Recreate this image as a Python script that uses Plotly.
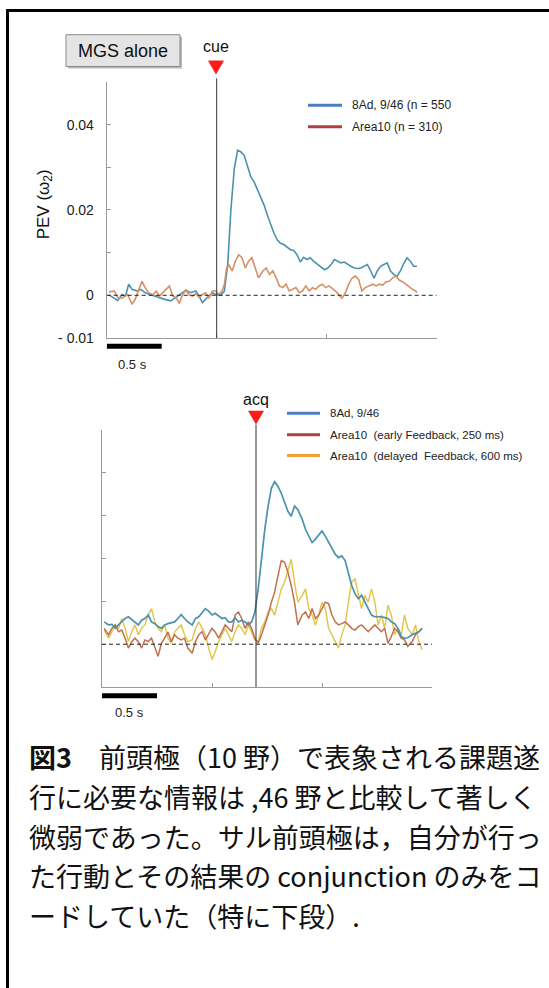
import plotly.graph_objects as go

W, H = 549, 988

# ---------------- data ----------------
# Top panel: MGS alone, aligned to cue (s)
top_t_8ad = [-0.98, -0.90, -0.86, -0.83, -0.80, -0.77, -0.72, -0.69, -0.65, -0.60, -0.54, -0.48, -0.42, -0.37,
             -0.33, -0.28, -0.24, -0.19, -0.16, -0.13, -0.10, -0.07, -0.04, 0.00, 0.04, 0.07, 0.10, 0.13, 0.16,
             0.19, 0.22, 0.25, 0.28, 0.31, 0.34, 0.37, 0.40, 0.43, 0.46, 0.49, 0.52, 0.55, 0.58, 0.61, 0.64,
             0.67, 0.70, 0.73, 0.76, 0.79, 0.82, 0.85, 0.88, 0.92, 0.95, 0.98, 1.01, 1.04, 1.07, 1.10, 1.13,
             1.16, 1.19, 1.22, 1.25, 1.28, 1.31, 1.34, 1.37, 1.40, 1.43, 1.46, 1.49, 1.52, 1.55, 1.58, 1.61,
             1.64, 1.67, 1.70, 1.73, 1.76, 1.79, 1.82]
top_v_8ad = [0.0001, -0.0012, 0.0002, -0.0002, 0.0026, 0.0014, 0.0010, 0.0014, 0.0006, 0.0001, -0.0004, -0.0009,
             -0.0013, -0.0005, 0.0002, 0.0012, 0.0006, 0.0010, -0.0002, -0.0017, -0.0009, -0.0002, 0.0006, 0.0001,
             0.0001, 0.0010, 0.0072, 0.0204, 0.0297, 0.0340, 0.0336, 0.0328, 0.0305, 0.0278, 0.0266, 0.0247,
             0.0227, 0.0212, 0.0188, 0.0165, 0.0146, 0.0130, 0.0122, 0.0119, 0.0112, 0.0107, 0.0105, 0.0095,
             0.0078, 0.0089, 0.0084, 0.0088, 0.0080, 0.0072, 0.0068, 0.0060, 0.0064, 0.0072, 0.0084, 0.0080,
             0.0076, 0.0078, 0.0072, 0.0068, 0.0064, 0.0063, 0.0064, 0.0068, 0.0072, 0.0057, 0.0040, 0.0057,
             0.0068, 0.0072, 0.0076, 0.0057, 0.0049, 0.0045, 0.0057, 0.0074, 0.0088, 0.0080, 0.0068, 0.0068]

top_t_a10 = [-0.98, -0.93, -0.90, -0.86, -0.81, -0.77, -0.74, -0.71, -0.68, -0.65, -0.62, -0.58, -0.55, -0.52,
             -0.49, -0.46, -0.43, -0.40, -0.37, -0.34, -0.31, -0.28, -0.25, -0.22, -0.19, -0.16, -0.13, -0.10,
             -0.07, -0.04, -0.01, 0.02, 0.05, 0.07, 0.09, 0.11, 0.14, 0.17, 0.20, 0.23, 0.26, 0.29, 0.32, 0.35,
             0.38, 0.42, 0.45, 0.48, 0.51, 0.54, 0.57, 0.60, 0.63, 0.66, 0.69, 0.72, 0.75, 0.78, 0.81, 0.84,
             0.87, 0.90, 0.93, 0.96, 0.99, 1.02, 1.05, 1.08, 1.11, 1.14, 1.17, 1.20, 1.23, 1.26, 1.29, 1.32,
             1.35, 1.38, 1.42, 1.45, 1.48, 1.51, 1.54, 1.57, 1.60, 1.63, 1.66, 1.69, 1.72, 1.75, 1.78, 1.81, 1.82]
top_v_a10 = [0.0008, 0.0010, -0.0005, -0.0007, 0.0002, -0.0021, -0.0009, 0.0010, 0.0033, 0.0018, 0.0006, 0.0001,
             0.0010, -0.0002, 0.0006, 0.0014, 0.0022, -0.0002, -0.0005, -0.0019, 0.0002, 0.0012, 0.0001, -0.0002,
             0.0004, -0.0005, 0.0002, 0.0006, -0.0007, 0.0010, 0.0010, 0.0002, 0.0010, 0.0026, 0.0064, 0.0071,
             0.0057, 0.0080, 0.0095, 0.0088, 0.0064, 0.0080, 0.0088, 0.0064, 0.0041, 0.0057, 0.0064, 0.0049,
             0.0057, 0.0041, 0.0022, 0.0018, 0.0026, 0.0010, 0.0014, 0.0018, 0.0006, 0.0010, 0.0022, 0.0010,
             0.0018, 0.0014, 0.0022, 0.0026, 0.0018, 0.0022, 0.0016, 0.0010, 0.0001, -0.0007, 0.0006, 0.0026,
             0.0040, 0.0045, 0.0037, 0.0010, 0.0018, 0.0022, 0.0026, 0.0022, 0.0026, 0.0024, 0.0032, 0.0033,
             0.0041, 0.0045, 0.0035, 0.0032, 0.0026, 0.0018, 0.0014, 0.0010, 0.0006]

# Bottom panel: aligned to acquisition (s)
bot_t = [-1.38, -1.34, -1.31, -1.28, -1.25, -1.22, -1.19, -1.16, -1.13, -1.10, -1.07, -1.04, -1.01, -0.98,
         -0.95, -0.92, -0.89, -0.86, -0.83, -0.80, -0.77, -0.74, -0.71, -0.68, -0.65, -0.62, -0.58, -0.55,
         -0.52, -0.49, -0.46, -0.43, -0.40, -0.37, -0.34, -0.31, -0.28, -0.25, -0.22, -0.19, -0.16, -0.13,
         -0.10, -0.07, -0.04, -0.01, 0.02, 0.05, 0.08, 0.11, 0.14, 0.17, 0.20, 0.23, 0.26, 0.29, 0.32, 0.35,
         0.38, 0.42, 0.45, 0.48, 0.51, 0.54, 0.57, 0.60, 0.63, 0.66, 0.69, 0.72, 0.75, 0.78, 0.81, 0.84,
         0.87, 0.90, 0.93, 0.96, 0.99, 1.02, 1.05, 1.08, 1.11, 1.14, 1.17, 1.20, 1.23, 1.26, 1.29, 1.32,
         1.35, 1.38, 1.42, 1.45, 1.48, 1.51]
bot_v_8ad = [0.0052, 0.0045, 0.0046, 0.0037, 0.0045, 0.0052, 0.0060, 0.0064, 0.0058, 0.0052, 0.0045, 0.0056,
             0.0060, 0.0068, 0.0052, 0.0048, 0.0041, 0.0037, 0.0045, 0.0048, 0.0050, 0.0052, 0.0060, 0.0069,
             0.0060, 0.0052, 0.0045, 0.0060, 0.0064, 0.0075, 0.0083, 0.0077, 0.0068, 0.0072, 0.0065, 0.0060,
             0.0062, 0.0052, 0.0052, 0.0062, 0.0052, 0.0056, 0.0052, 0.0045, 0.0052, 0.0075, 0.0129, 0.0206,
             0.0268, 0.0322, 0.0364, 0.0379, 0.0368, 0.0352, 0.0329, 0.0310, 0.0298, 0.0322, 0.0314, 0.0291,
             0.0268, 0.0252, 0.0237, 0.0245, 0.0256, 0.0264, 0.0252, 0.0237, 0.0225, 0.0210, 0.0202, 0.0206,
             0.0195, 0.0168, 0.0137, 0.0118, 0.0106, 0.0114, 0.0098, 0.0083, 0.0068, 0.0064, 0.0064, 0.0064,
             0.0062, 0.0060, 0.0052, 0.0048, 0.0037, 0.0018, 0.0014, 0.0015, 0.0022, 0.0025, 0.0029, 0.0037]
bot_v_early = [0.0037, 0.0022, 0.0037, 0.0045, 0.0029, 0.0033, 0.0014, -0.0009, 0.0006, 0.0014, 0.0006, -0.0009,
               0.0010, 0.0006, 0.0014, -0.0005, -0.0028, 0.0002, 0.0014, 0.0028, 0.0006, 0.0022, 0.0014, 0.0010,
               0.0014, -0.0009, -0.0021, 0.0006, 0.0022, 0.0029, 0.0010, 0.0022, 0.0037, 0.0028, 0.0014, 0.0029,
               0.0045, 0.0037, 0.0029, 0.0068, 0.0075, 0.0060, 0.0037, 0.0052, 0.0037, 0.0014, 0.0002, 0.0022,
               0.0045, 0.0068, 0.0098, 0.0122, 0.0160, 0.0195, 0.0191, 0.0168, 0.0137, 0.0098, 0.0045, 0.0068,
               0.0075, 0.0060, 0.0083, 0.0060, 0.0068, 0.0083, 0.0098, 0.0095, 0.0068, 0.0052, 0.0045, 0.0048,
               0.0052, 0.0045, 0.0037, 0.0033, 0.0041, 0.0045, 0.0037, 0.0029, 0.0037, 0.0045, 0.0037, 0.0029,
               0.0037, 0.0002, 0.0018, 0.0037, 0.0029, 0.0014, 0.0010, -0.0005, 0.0006, 0.0022, 0.0029, 0.0037]
bot_v_delayed = [0.0033, 0.0014, 0.0029, 0.0045, 0.0037, 0.0060, 0.0037, 0.0006, 0.0029, 0.0045, 0.0022, 0.0037,
                 0.0045, 0.0068, 0.0083, 0.0052, 0.0037, 0.0029, 0.0045, 0.0014, 0.0002, 0.0029, 0.0037, 0.0045,
                 0.0022, 0.0006, 0.0010, 0.0037, 0.0052, 0.0037, 0.0022, -0.0009, -0.0036, -0.0017, 0.0006, 0.0022,
                 0.0037, 0.0022, 0.0006, 0.0029, 0.0045, 0.0037, 0.0022, 0.0045, 0.0029, 0.0010, 0.0006, 0.0037,
                 0.0052, 0.0075, 0.0083, 0.0068, 0.0098, 0.0129, 0.0145, 0.0175, 0.0198, 0.0145, 0.0098, 0.0114,
                 0.0129, 0.0083, 0.0068, 0.0045, 0.0068, 0.0098, 0.0083, 0.0037, 0.0022, 0.0006, -0.0009, 0.0022,
                 0.0045, 0.0098, 0.0145, 0.0152, 0.0114, 0.0083, 0.0114, 0.0098, 0.0129, 0.0098, 0.0045, 0.0068,
                 0.0037, 0.0091, 0.0068, 0.0022, 0.0037, 0.0022, 0.0068, 0.0037, 0.0022, 0.0045, 0.0006, -0.0013]

y_label_vals = [-0.01, 0, 0.02, 0.04]
y_label_text = ["- 0.01", "0", "0.02", "0.04"]
y_tick_all = [-0.01, 0, 0.01, 0.02, 0.03, 0.04, 0.05]
top_x_ticks = [0, 1, 2]
bot_x_ticks = [-0.4, 0.6, 1.6]

legend_top = ["8Ad, 9/46 (n = 550", "Area10 (n = 310)"]
legend_bot = ["8Ad, 9/46", "Area10\u00a0 (early Feedback, 250 ms)", "Area10\u00a0 (delayed\u00a0 Feedback, 600 ms)"]
caption = ["<b>図3</b>\u3000前頭極（10 野）で表象される課題遂",
           "行に必要な情報は ,46 野と比較して著しく",
           "微弱であった。サル前頭極は，自分が行っ",
           "た行動とその結果の conjunction のみをコ",
           "ードしていた（特に下段）."]

# ---------------- styling ----------------
C_BLUE_DATA = "#4b92ad"
C_ORNG_DATA = "#d69068"
C_RED_DATA = "#c0704e"
C_YEL_DATA = "#e2c74f"
C_BLUE_LEG = "#4a80c0"
C_RED_LEG = "#b0403e"
C_ORG_LEG = "#f0a035"
AX = "#9a9a9a"
SANS = "Liberation Sans, Arial, sans-serif"
JP = "Noto Sans CJK JP"


def px(x):
    return x / W


def py(y):
    return 1 - y / H


fig = go.Figure()
fig.add_trace(go.Scatter(x=top_t_8ad, y=top_v_8ad, mode="lines", line=dict(color=C_BLUE_DATA, width=1.6),
                         xaxis="x", yaxis="y", showlegend=False))
fig.add_trace(go.Scatter(x=top_t_a10, y=top_v_a10, mode="lines", line=dict(color=C_ORNG_DATA, width=1.6),
                         xaxis="x", yaxis="y", showlegend=False))
fig.add_trace(go.Scatter(x=bot_t, y=bot_v_delayed, mode="lines", line=dict(color=C_YEL_DATA, width=1.5),
                         xaxis="x2", yaxis="y2", showlegend=False))
fig.add_trace(go.Scatter(x=bot_t, y=bot_v_early, mode="lines", line=dict(color=C_RED_DATA, width=1.5),
                         xaxis="x2", yaxis="y2", showlegend=False))
fig.add_trace(go.Scatter(x=bot_t, y=bot_v_8ad, mode="lines", line=dict(color=C_BLUE_DATA, width=1.7),
                         xaxis="x2", yaxis="y2", showlegend=False))

axis_common = dict(showline=True, linecolor=AX, linewidth=1, ticks="inside", ticklen=4, tickcolor=AX,
                   showgrid=False, zeroline=False, fixedrange=True)

fig.update_layout(
    width=W, height=H, margin=dict(l=0, r=0, t=0, b=0),
    paper_bgcolor="white", plot_bgcolor="rgba(0,0,0,0)",
    xaxis=dict(domain=[px(106.7), px(436.7)], range=[-1, 2], tickvals=top_x_ticks, showticklabels=False,
               anchor="y", **axis_common),
    yaxis=dict(domain=[py(340.7), py(82.7)], range=[-0.01, 0.05], tickvals=y_label_vals, ticktext=y_label_text,
               tickfont=dict(family=SANS, size=14, color="#222"), ticklabelstandoff=9, anchor="x",
               minor=dict(tickvals=y_tick_all, ticks="inside", ticklen=4, tickcolor=AX, showgrid=False),
               **axis_common),
    xaxis2=dict(domain=[px(102), px(432)], range=[-1.4, 1.6], tickvals=bot_x_ticks, showticklabels=False,
                anchor="y2", **axis_common),
    yaxis2=dict(domain=[py(692.7), py(433.3)], range=[-0.01, 0.05], tickvals=y_tick_all, showticklabels=False,
                anchor="x2", **axis_common),
    showlegend=False,
)

shapes = []
ann = []

# outer frame
shapes.append(dict(type="rect", xref="paper", yref="paper", x0=px(7.5), x1=px(570), y0=py(1010), y1=py(10.5),
                   line=dict(color="black", width=3), fillcolor="rgba(0,0,0,0)"))

# MGS alone button
shapes.append(dict(type="rect", xref="paper", yref="paper", x0=px(68), x1=px(182), y0=py(69), y1=py(37),
                   line=dict(width=0), fillcolor="#b8b8b8", layer="below"))
shapes.append(dict(type="rect", xref="paper", yref="paper", x0=px(66), x1=px(180), y0=py(67), y1=py(35),
                   line=dict(color="#8a8a8a", width=1), fillcolor="#e4e4e4", layer="below"))
ann.append(dict(text="MGS alone", x=px(123), y=py(51), xref="paper", yref="paper", showarrow=False,
                font=dict(family=SANS, size=18, color="#111"), xanchor="center", yanchor="middle"))

# event markers
for (lab, cx, lab_y, tri_top, tri_bot, line_top, ybot, axref) in [
        ("cue", 216, 47, 61, 75, 79, 340.7, "x"),
        ("acq", 256, 403, 414, 428, 428, 692.7, "x2")]:
    ann.append(dict(text=lab, x=px(cx), y=py(lab_y), xref="paper", yref="paper", showarrow=False,
                    font=dict(family=SANS, size=16, color="#111"), xanchor="center", yanchor="middle"))
    shapes.append(dict(type="path", xref="paper", yref="paper",
                       path=f"M {px(cx-8)},{py(tri_top)} L {px(cx+8)},{py(tri_top)} L {px(cx)},{py(tri_bot)} Z",
                       fillcolor="#ff1a1a", line=dict(width=0)))
    shapes.append(dict(type="line", xref=axref, yref="paper", x0=0, x1=0, y0=py(ybot), y1=py(line_top),
                       line=dict(color="#333", width=1)))

# dashed zero lines
shapes.append(dict(type="line", xref="x", yref="y", x0=-1, x1=2, y0=0, y1=0,
                   line=dict(color="#222", width=1, dash="4px,3px")))
shapes.append(dict(type="line", xref="x2", yref="y2", x0=-1.4, x1=1.6, y0=0, y1=0,
                   line=dict(color="#222", width=1, dash="4px,3px")))

# scale bars (0.5 s)
shapes.append(dict(type="rect", xref="x", yref="paper", x0=-1, x1=-0.5, y0=py(351.5), y1=py(346.5),
                   fillcolor="black", line=dict(width=0)))
shapes.append(dict(type="rect", xref="x2", yref="paper", x0=-1.4, x1=-0.9, y0=py(704), y1=py(699),
                   fillcolor="black", line=dict(width=0)))
ann.append(dict(text="0.5 s", x=px(132), y=py(367), xref="paper", yref="paper", showarrow=False,
                xanchor="center", yanchor="middle", font=dict(family=SANS, size=13, color="#222")))
ann.append(dict(text="0.5 s", x=px(129), y=py(718), xref="paper", yref="paper", showarrow=False,
                xanchor="center", yanchor="middle", font=dict(family=SANS, size=13, color="#222")))

# y-axis title
ann.append(dict(text="PEV (ω<sub>2</sub>)", x=px(45), y=py(206), xref="paper", yref="paper", showarrow=False,
                textangle=-90, font=dict(family=SANS, size=17, color="#111"),
                xanchor="center", yanchor="middle"))

# legends
for label, col, yy in zip(legend_top, [C_BLUE_LEG, C_RED_LEG], [106, 127.7]):
    shapes.append(dict(type="line", xref="paper", yref="paper", x0=px(308), x1=px(342), y0=py(yy), y1=py(yy),
                       line=dict(color=col, width=3)))
    ann.append(dict(text=label, x=px(350), y=py(yy), xref="paper", yref="paper", showarrow=False,
                    xanchor="left", yanchor="middle", font=dict(family=SANS, size=12, color="#222")))
for label, col, yy in zip(legend_bot, [C_BLUE_LEG, C_RED_LEG, C_ORG_LEG], [416.7, 438.3, 459.3]):
    shapes.append(dict(type="line", xref="paper", yref="paper", x0=px(287), x1=px(320), y0=py(yy), y1=py(yy),
                       line=dict(color=col, width=3)))
    ann.append(dict(text=label, x=px(328), y=py(yy), xref="paper", yref="paper", showarrow=False,
                    xanchor="left", yanchor="middle", font=dict(family=SANS, size=11.5, color="#222")))

# caption
for i, line in enumerate(caption):
    ann.append(dict(text=line, x=px(27), y=py(763 + 40 * i), xref="paper", yref="paper", showarrow=False,
                    xanchor="left", yanchor="middle", font=dict(family=JP, size=27, color="#111")))

fig.update_layout(shapes=shapes, annotations=ann)
fig.write_html("out.html", config={"displayModeBar": False},
               post_script="document.body.style.margin='0px';document.body.style.overflow='hidden';")
